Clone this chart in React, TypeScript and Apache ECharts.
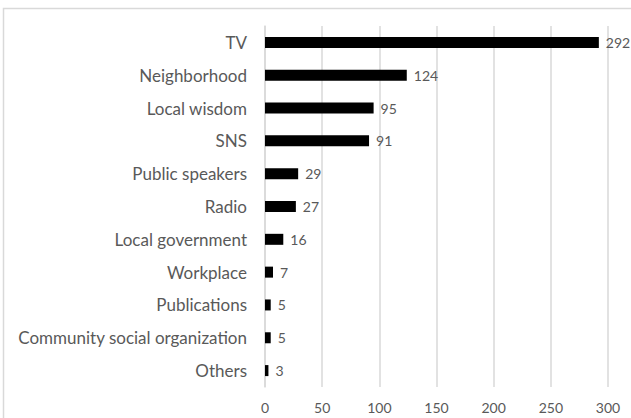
import React, { useEffect, useRef } from "react";
import * as echarts from "echarts";

const categories = [
  "TV",
  "Neighborhood",
  "Local wisdom",
  "SNS",
  "Public speakers",
  "Radio",
  "Local government",
  "Workplace",
  "Publications",
  "Community social organization",
  "Others",
];
const values = [292, 124, 95, 91, 29, 27, 16, 7, 5, 5, 3];
const xTicks = { min: 0, max: 300, interval: 50 };

export default function App() {
  const ref = useRef<HTMLDivElement>(null);
  useEffect(() => {
    document.body.style.margin = "0";
    const chart = echarts.init(ref.current!, null, { renderer: "svg" });
    const font = "Lato";
    chart.setOption({
      animation: false,
      backgroundColor: "#ffffff",
      graphic: [
        {
          type: "rect",
          shape: { x: 3.5, y: 8.5, width: 640, height: 430 },
          style: { fill: "none", stroke: "#d9d9d9", lineWidth: 1.5 },
          silent: true,
        },
      ],
      grid: { left: 265, right: 23, top: 26, bottom: 31 },
      xAxis: {
        type: "value",
        min: xTicks.min,
        max: xTicks.max,
        interval: xTicks.interval,
        axisLine: { show: false },
        axisTick: { show: false },
        splitLine: { show: true, lineStyle: { color: "#d9d9d9", width: 1.5 } },
        axisLabel: { color: "#595959", fontFamily: font, fontSize: 14, margin: 13 },
      },
      yAxis: {
        type: "category",
        inverse: true,
        data: categories,
        axisLine: { show: true, lineStyle: { color: "#d9d9d9", width: 1.5 } },
        axisTick: { show: false },
        axisLabel: { color: "#595959", fontFamily: font, fontSize: 17, margin: 18 },
      },
      series: [
        {
          type: "bar",
          data: values,
          barWidth: 11,
          itemStyle: { color: "#000000" },
          label: {
            show: true,
            position: "right",
            distance: 7,
            color: "#595959",
            fontFamily: font,
            fontSize: 14,
          },
        },
      ],
    });
    return () => chart.dispose();
  }, []);
  return <div ref={ref} style={{ width: 631, height: 418 }} />;
}
